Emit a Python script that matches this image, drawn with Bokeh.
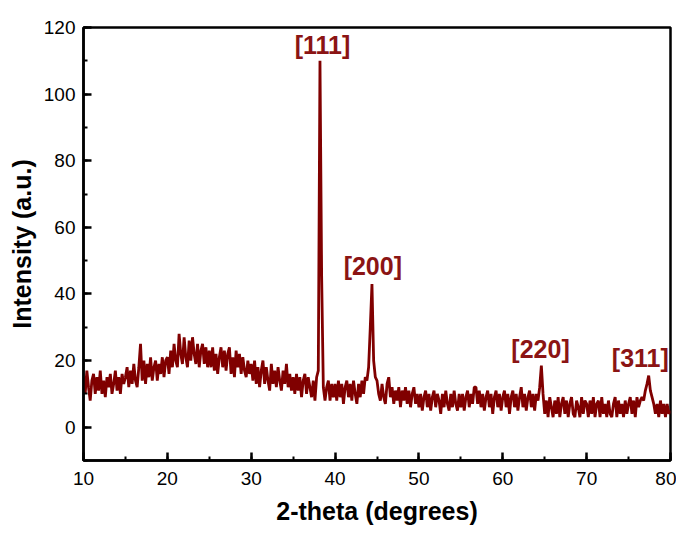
import numpy as np
from bokeh.plotting import figure
from bokeh.models import Range1d, SingleIntervalTicker, ColumnDataSource
from bokeh.core.properties import value
from bokeh.embed import file_html
from bokeh.resources import INLINE

# 2-theta from 10 to 80 deg in 0.2 deg steps (one row = 5 degrees)
two_theta = np.round(np.arange(10.0, 80.0001, 0.2), 2)

intensity = [
    # 10.0 - 14.8
    15, 10, 17, 12, 8, 14, 16, 10, 15, 11, 17, 10, 14, 9, 15, 12, 16, 10, 13, 17, 11, 15, 10, 16, 13,
    # 15.0 - 19.8
    15, 18, 12, 17, 13, 19, 14, 12, 18, 25, 14, 20, 13, 19, 15, 21, 14, 18, 20, 14, 19, 16, 21, 15, 20,
    # 20.0 - 24.8
    21, 16, 23, 18, 25, 20, 18, 28, 22, 19, 27, 21, 18, 26, 20, 27, 22, 19, 25, 18, 23, 25, 19, 24, 18,
    # 25.0 - 29.8
    23, 18, 24, 17, 22, 16, 21, 24, 18, 23, 17, 22, 24, 16, 21, 15, 23, 18, 22, 16, 21, 17, 15, 20, 16,
    # 30.0 - 34.8
    19, 14, 20, 13, 18, 12, 17, 20, 13, 18, 14, 11, 19, 13, 17, 12, 18, 14, 11, 17, 13, 19, 12, 16, 11,
    # 35.0 - 39.8
    15, 10, 16, 11, 15, 9, 14, 16, 10, 15, 12, 9, 14, 8, 15, 17, 110, 45, 12, 8, 12, 14, 8, 13, 9,
    # 40.0 - 44.8
    13, 8, 14, 9, 13, 7, 12, 14, 9, 13, 8, 14, 10, 7, 13, 9, 14, 10, 15, 14, 18, 30, 43, 20, 15,
    # 45.0 - 49.8
    14, 10, 8, 13, 9, 7, 13, 15, 9, 12, 7, 11, 8, 12, 6, 11, 8, 12, 7, 11, 6, 10, 12, 7, 10,
    # 50.0 - 54.8
    6, 10, 5, 9, 11, 6, 10, 5, 9, 11, 6, 10, 8, 4, 10, 6, 11, 7, 5, 10, 6, 11, 7, 5, 10,
    # 55.0 - 59.8
    6, 10, 5, 9, 11, 6, 10, 7, 12, 12, 7, 11, 6, 10, 5, 9, 11, 6, 10, 4, 9, 11, 6, 10, 5,
    # 60.0 - 64.8
    9, 11, 6, 10, 4, 9, 11, 6, 10, 5, 9, 12, 6, 10, 5, 9, 11, 6, 10, 5, 10, 8, 12, 18.5, 10,
    # 65.0 - 69.8
    4, 8, 3, 9, 6, 3, 8, 4, 9, 3, 7, 9, 4, 8, 3, 7, 9, 4, 3, 8, 6, 3, 9, 4, 8,
    # 70.0 - 74.8
    7, 3, 8, 4, 9, 3, 7, 8, 3, 9, 4, 7, 3, 8, 4, 3, 7, 9, 3, 8, 4, 7, 3, 8, 4,
    # 75.0 - 79.8
    7, 9, 4, 8, 3, 9, 6, 8, 9, 8, 11, 13, 15.5, 11, 9, 7, 4, 7, 3, 8, 4, 7, 3, 7, 4,
    # 80.0
    5,
]

peak_labels = ["[111]", "[200]", "[220]", "[311]"]
peak_label_x = [38.5, 44.5, 64.5, 76.4]
peak_label_y = [114.6, 48.4, 23.5, 20.8]

FONT = "Liberation Sans"
LINE_COLOR = "#800000"
LABEL_COLOR = "#8b1414"

p = figure(width=676, height=531, output_backend="svg", toolbar_location=None,
           x_range=Range1d(10, 80), y_range=Range1d(-10, 120),
           min_border_left=83, min_border_right=6, min_border_top=27, min_border_bottom=71)

p.line(two_theta, intensity, line_color=LINE_COLOR, line_width=2.8)

src = ColumnDataSource(dict(x=peak_label_x, y=peak_label_y, t=peak_labels))
p.text(x="x", y="y", text="t", source=src, text_align="center", text_baseline="middle",
       text_font=value(FONT), text_font_size="25px", text_font_style="bold",
       text_color=LABEL_COLOR)

p.grid.visible = False
p.outline_line_color = "black"
p.outline_line_width = 2.5
p.background_fill_color = "white"
p.border_fill_color = "white"

p.xaxis.ticker = SingleIntervalTicker(interval=10, num_minor_ticks=2)
p.yaxis.ticker = SingleIntervalTicker(interval=20, num_minor_ticks=2)

for ax in (p.xaxis[0], p.yaxis[0]):
    ax.axis_line_width = 2.5
    ax.axis_line_color = "black"
    ax.major_tick_in = 8
    ax.major_tick_out = 0
    ax.minor_tick_in = 4
    ax.minor_tick_out = 0
    ax.major_tick_line_width = 2.5
    ax.minor_tick_line_width = 2
    ax.major_label_text_font = FONT
    ax.major_label_text_font_size = "19px"
    ax.major_label_text_color = "black"
    ax.axis_label_text_font = FONT
    ax.axis_label_text_font_size = "25px"
    ax.axis_label_text_font_style = "bold"
    ax.axis_label_text_color = "black"

p.xaxis.axis_label = "2-theta (degrees)"
p.yaxis.axis_label = "Intensity (a.u.)"
p.xaxis.major_label_standoff = 11
p.yaxis.major_label_standoff = 8
p.xaxis.axis_label_standoff = 9
p.yaxis.axis_label_standoff = 5

open("out.html", "w").write(file_html(p, INLINE))
